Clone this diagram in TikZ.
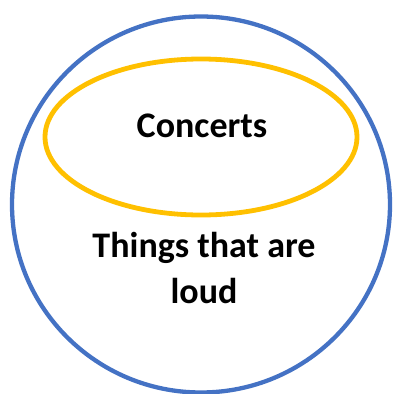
\documentclass[tikz,border=0pt]{standalone}
\usepackage{fontspec}
\setmainfont{Carlito}
\usetikzlibrary{shapes.geometric}
\definecolor{cLoud}{RGB}{68,114,196}
\definecolor{cConc}{RGB}{255,192,0}

\begin{document}
\begin{tikzpicture}[x=1pt,y=-1pt,
    set/.style={draw,ellipse,inner sep=0pt},
    lbl/.style={font=\fontsize{36}{46}\selectfont\bfseries,inner sep=0pt,align=center}]
  \useasboundingbox (0,0) rectangle (393,394);
  \node[set,draw=cLoud,line width=4.3pt,minimum width=378pt,minimum height=376pt] (loud) at (201,204.5) {};
  \node[set,draw=cConc,line width=4.8pt,minimum width=312pt,minimum height=156pt] (conc) at (201,137) {};
  \node[lbl,anchor=base] (tconc) at (202,137) {Concerts};
  \node[lbl,anchor=base] (tloud) at (204,303) {Things that are\\loud};
\end{tikzpicture}
\end{document}
